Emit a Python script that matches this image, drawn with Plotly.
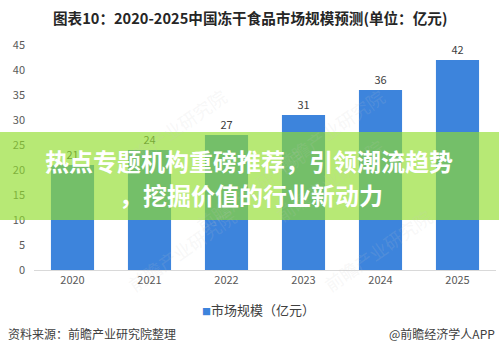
import plotly.graph_objects as go

years = ["2020", "2021", "2022", "2023", "2024", "2025"]
market_size = [21, 24, 27, 31, 36, 42]
y_ticks = [0, 5, 10, 15, 20, 25, 30, 35, 40, 45]
series_name = "市场规模（亿元）"
title_text = "图表10：2020-2025中国冻干食品市场规模预测(单位：亿元)"
banner_line1 = "热点专题机构重磅推荐，引领潮流趋势"
banner_line2 = "，挖掘价值的行业新动力"
source_text = "资料来源：前瞻产业研究院整理"
brand_text = "@前瞻经济学人APP"
watermark = "前瞻产业研究院"

FONT = "Noto Sans CJK SC, Microsoft YaHei, sans-serif"
BAR = "#3d84dc"

fig = go.Figure()
fig.add_trace(go.Bar(
    x=years, y=market_size, name=series_name,
    marker=dict(color=BAR, line=dict(width=0)),
    text=[str(v) for v in market_size], textposition="outside",
    textfont=dict(size=11, color="#404040", family=FONT),
    cliponaxis=False, showlegend=False,
))

W, H = 499, 353
L, R, T, B = 34, 3, 45, 83
pw, ph = W - L - R, H - T - B

def px(x):
    return (x - L) / pw

def py(y):
    return (H - B - y) / ph

annotations = [
    dict(text=f"<b>{title_text}</b>", x=px(250), y=py(17), xref="paper", yref="paper",
         showarrow=False, xanchor="center", yanchor="middle",
         font=dict(size=14.6, color="#262626", family=FONT)),
    dict(text=f"<span style='font-size:9px;color:{BAR}'>■</span>{series_name}",
         x=px(258), y=py(309), xref="paper", yref="paper",
         showarrow=False, xanchor="center", yanchor="middle",
         font=dict(size=13, color="#404040", family=FONT)),
    dict(text=source_text, x=px(6), y=py(333), xref="paper", yref="paper",
         showarrow=False, xanchor="left", yanchor="middle",
         font=dict(size=12, color="#404040", family=FONT)),
    dict(text=brand_text, x=px(497), y=py(333), xref="paper", yref="paper",
         showarrow=False, xanchor="right", yanchor="middle",
         font=dict(size=12, color="#404040", family=FONT)),
]
# faint watermarks
for wx, wy in [(110, 80), (330, 80), (120, 300), (330, 230), (440, 300), (250, 190)]:
    annotations.append(dict(text=watermark, x=px(wx), y=py(wy), xref="paper", yref="paper",
                            showarrow=False, textangle=-35,
                            font=dict(size=18, color="rgba(200,200,200,0.15)", family=FONT)))
# banner text
annotations += [
    dict(text=f"<b>{banner_line1}</b>", x=px(249), y=py(160), xref="paper", yref="paper",
         showarrow=False, xanchor="center", yanchor="middle",
         font=dict(size=24, color="white", family=FONT)),
    dict(text=f"<b>{banner_line2}</b>", x=px(251), y=py(194), xref="paper", yref="paper",
         showarrow=False, xanchor="center", yanchor="middle",
         font=dict(size=24, color="white", family=FONT)),
]

fig.update_layout(
    width=W, height=H,
    margin=dict(l=L, r=R, t=T, b=B),
    paper_bgcolor="white", plot_bgcolor="white",
    bargap=0.44,
    font=dict(family=FONT, size=11, color="#595959"),
    showlegend=False,
    xaxis=dict(type="category", range=[-0.5, 5.5], showgrid=False,
               showline=True, linecolor="#d9d9d9", linewidth=1, ticks="",
               tickfont=dict(size=11, color="#595959")),
    yaxis=dict(range=[0, 45], tickvals=y_ticks, showgrid=False, zeroline=False,
               showline=False, ticks="", ticklabelstandoff=8,
               tickfont=dict(size=11, color="#595959")),
    annotations=annotations,
    shapes=[dict(type="rect", xref="paper", yref="paper",
                 x0=-0.1, x1=1.1, y0=py(220), y1=py(132),
                 fillcolor="rgba(145,222,45,0.66)", line=dict(width=0), layer="above")],
)

fig.write_html("out.html")
